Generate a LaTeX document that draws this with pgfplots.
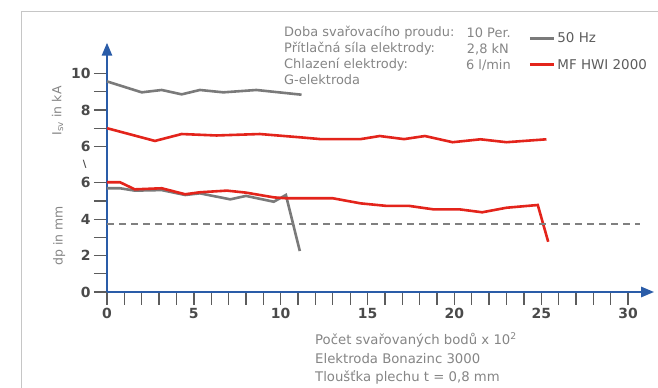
\documentclass[border=0pt]{standalone}
\usepackage{pgfplots}
\pgfplotsset{compat=1.18}
\usepackage{pgfplotstable}
\usepackage{fontspec}
\setmainfont{DejaVu Sans}
\usetikzlibrary{arrows.meta}
\definecolor{axblue}{HTML}{2A5CA8}
\definecolor{lgray}{HTML}{7A7A7A}
\definecolor{lred}{HTML}{E3241B}
\definecolor{txtgray}{HTML}{858585}
\definecolor{tickgray}{HTML}{4A4A4A}

% upper curves: I in kA (plotted shifted by +2 because of the axis break)
\pgfplotstableread{
x I
0 9.57
2.0 8.97
3.15 9.1
4.3 8.86
5.35 9.1
6.7 8.97
8.6 9.1
11.2 8.84
}\grayI
\pgfplotstableread{
x I
0 7.0
2.76 6.3
4.3 6.68
6.3 6.6
8.8 6.68
11.1 6.5
12.3 6.4
14.6 6.4
15.7 6.57
17.1 6.4
18.3 6.57
19.9 6.23
21.5 6.39
23.0 6.23
25.3 6.39
}\redI
% lower curves: dp in mm
\pgfplotstableread{
x dp
0 5.7
0.75 5.7
1.6 5.57
3.15 5.6
4.5 5.33
5.35 5.42
7.1 5.09
8.0 5.28
9.6 4.96
10.3 5.33
11.1 2.25
}\grayD
\pgfplotstableread{
x dp
0 6.03
0.75 6.03
1.6 5.64
3.15 5.7
4.5 5.37
5.35 5.48
6.9 5.57
8.0 5.46
9.6 5.2
10.3 5.15
13.0 5.15
14.6 4.87
16.1 4.73
17.4 4.73
18.8 4.54
20.3 4.54
21.6 4.38
23.0 4.63
24.8 4.78
25.4 2.76
}\redD

\begin{document}
\begin{tikzpicture}
\useasboundingbox (0bp,0bp) rectangle (658bp,388bp);
\draw[gray!45, line width=1bp] (21bp,0bp) -- (21bp,376bp) -- (658bp,376bp);
\begin{axis}[
  at={(107bp,96bp)}, anchor=origin,
  x=17.37bp, y=18.2bp,
  xmin=0, xmax=31.5, ymin=0, ymax=13.7,
  enlargelimits=false, clip=false,
  axis lines=left,
  axis line style={axblue, line width=2.6bp, -{Triangle[length=13bp,width=10bp]}},
  tick align=outside,
  major tick length=13bp, minor tick length=13bp,
  every tick/.style={tickgray!90, line width=1.3bp},
  xtick={0,5,...,30}, xticklabels={0,5,10,15,20,25,30},
  minor xtick={1,2,3,4,6,7,8,9,11,12,13,14,16,17,18,19,21,22,23,24,26,27,28,29},
  ytick={0,2,4,6,8,10,12}, yticklabels={0,2,4,6,6,8,10},
  minor ytick={1,3,5,9,11},
  extra y ticks={7}, extra y tick labels={\textbackslash},
  extra y tick style={major tick length=0pt, yticklabel style={font=\fontsize{10}{10}\selectfont\bfseries, xshift=-17bp}},
  ticklabel style={font=\fontsize{14}{14}\selectfont\bfseries, text=tickgray},
  /pgf/number format/assume math mode=true,
  legend style={at={(axis cs:24.25,14.37)}, anchor=north west, draw=none, fill=none,
    font=\fontsize{13.5}{13.5}\selectfont, text=tickgray!90, row sep=11bp, inner sep=0pt,
    legend cell align=left},
  legend image code/.code={\draw[#1, line width=3bp] (0bp,0bp) -- (24bp,0bp);},
]
\addplot[lgray, line width=2.6bp] table[x=x, y expr=\thisrow{I}+2] {\grayI};
\addlegendentry{50 Hz}
\addplot[lred, line width=2.6bp] table[x=x, y expr=\thisrow{I}+2] {\redI};
\addlegendentry{MF HWI 2000}
\addplot[lgray, line width=2.6bp, forget plot] table[x=x, y=dp] {\grayD};
\addplot[lred, line width=2.6bp, forget plot] table[x=x, y=dp] {\redD};
\addplot[gray, line width=1.6bp, dash pattern=on 7bp off 5bp, forget plot] coordinates {(0,3.72) (30.7,3.72)};
\node[rotate=90, font=\fontsize{12.5}{12.5}\selectfont, text=txtgray] at (axis cs:-2.85,9.95) {I\textsubscript{sv} in kA};
\node[rotate=90, font=\fontsize{12.5}{12.5}\selectfont, text=txtgray] at (axis cs:-2.75,3.08) {dp in mm};
\end{axis}
\begin{scope}[every node/.style={font=\fontsize{13}{13}\selectfont, text=txtgray, inner sep=0pt}]
\node[anchor=west] at (284bp,355bp) {Doba svařovacího proudu:};
\node[anchor=west] at (284bp,339bp) {Přítlačná síla elektrody:};
\node[anchor=west] at (284bp,323bp) {Chlazení elektrody:};
\node[anchor=west] at (284bp,308bp) {G-elektroda};
\node[anchor=east] at (511bp,355bp) {10 Per.};
\node[anchor=east] at (509bp,339bp) {2,8 kN};
\node[anchor=east] at (511bp,323bp) {6 l/min};
\end{scope}
\begin{scope}[every node/.style={font=\fontsize{13.3}{13.3}\selectfont, text=txtgray, inner sep=0pt}]
\node[anchor=west] at (315bp,48bp) {Počet svařovaných bodů x 10\textsuperscript{2}};
\node[anchor=west] at (315bp,29bp) {Elektroda Bonazinc 3000};
\node[anchor=west] at (315bp,11bp) {Tloušťka plechu t = 0,8 mm};
\end{scope}
\end{tikzpicture}
\end{document}
